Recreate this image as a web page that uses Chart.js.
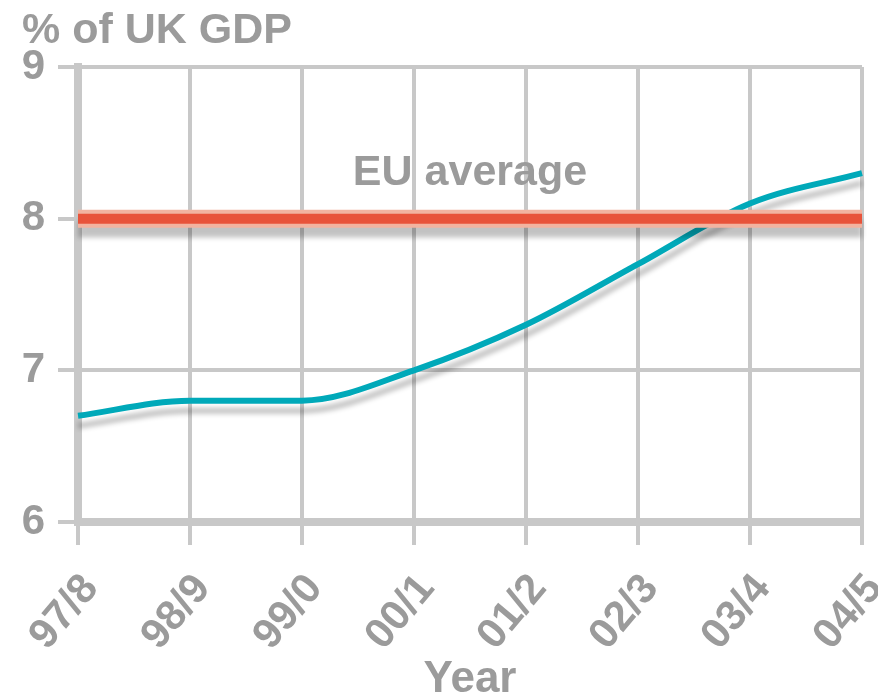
<!DOCTYPE html>
<html>
<head>
<meta charset="utf-8">
<style>
  html, body { margin: 0; padding: 0; background: #fff; }
  #wrap { width: 878px; height: 698px; }
</style>
<script src="https://cdn.jsdelivr.net/npm/chart.js@4/dist/chart.umd.min.js"></script>
</head>
<body>
<div id="wrap"><canvas id="gdpChart" width="878" height="698"></canvas></div>
<script>
// Données
const years = ['97/8', '98/9', '99/0', '00/1', '01/2', '02/3', '03/4', '04/5'];
const ukSpend = [6.7, 6.8, 6.8, 7.0, 7.3, 7.7, 8.1, 8.3];
const euAverage = 8;
const yTicks = [6, 7, 8, 9];

const grey = '#9b9b9b';
const gridCol = '#c8c8c8';
const font = { family: '"Liberation Sans", Arial, sans-serif', size: 42, weight: 'bold' };

// Ombre sous les lignes
const shadowPlugin = {
    id: 'shadow',
    beforeDatasetDraw(chart, args) {
        const ds = chart.data.datasets[args.index];
        if (!ds.shadow) return;
        const ctx = chart.ctx;
        ctx.save();
        ctx.shadowColor = 'rgba(0,0,0,0.24)';
        ctx.shadowBlur = 5;
        ctx.shadowOffsetY = 10;
    },
    afterDatasetDraw(chart, args) {
        const ds = chart.data.datasets[args.index];
        if (ds.shadow) chart.ctx.restore();
    }
};

// Textes : titre et "EU average"
const labelsPlugin = {
    id: 'labels',
    afterDraw(chart) {
        const ctx = chart.ctx;
        const x = chart.scales.x, y = chart.scales.y;
        ctx.save();
        ctx.fillStyle = grey;
        ctx.font = 'bold 43px "Liberation Sans", Arial, sans-serif';
        ctx.textBaseline = 'alphabetic';
        ctx.textAlign = 'left';
        ctx.fillText('% of UK GDP', 22, 43);
        ctx.textAlign = 'center';
        const cx = (x.getPixelForValue(3) + x.getPixelForValue(4)) / 2;
        ctx.fillText('EU average', cx, y.getPixelForValue(euAverage) - 34);
        ctx.restore();
    }
};

const ctx = document.getElementById('gdpChart');
new Chart(ctx, {
    type: 'line',
    data: {
        labels: years,
        datasets: [
            {
                label: 'EU average',
                data: years.map(() => euAverage),
                borderColor: '#e8533a',
                borderWidth: 10,
                pointRadius: 0
            },
            {
                label: 'halo',
                data: years.map(() => euAverage),
                borderColor: '#f2b3a0',
                borderWidth: 18,
                pointRadius: 0,
                shadow: true
            },
            {
                label: 'UK',
                data: ukSpend,
                borderColor: '#00a9b9',
                borderWidth: 6,
                pointRadius: 0,
                cubicInterpolationMode: 'monotone',
                shadow: true
            }
        ]
    },
    options: {
        responsive: false,
        animation: false,
        layout: { padding: { left: 22, right: 16, top: 67, bottom: 0 } },
        plugins: {
            legend: { display: false },
            tooltip: { enabled: false }
        },
        scales: {
            x: {
                grid: { color: gridCol, lineWidth: 4, tickLength: 23, tickWidth: 4 },
                border: { color: gridCol, width: 8 },
                ticks: {
                    color: grey, font: font, minRotation: 50, maxRotation: 50,
                    padding: 20, labelOffset: 13, autoSkip: false
                },
                title: { display: true, text: 'Year', color: grey, font: { ...font, size: 44 }, padding: { top: 0, bottom: -8 } },
                afterFit(scale) {
                    scale.height = 176;
                    scale.paddingLeft = 0;
                    scale.paddingRight = 0;
                }
            },
            y: {
                min: yTicks[0],
                max: yTicks[yTicks.length - 1],
                afterBuildTicks(scale) { scale.ticks = yTicks.map(v => ({ value: v })); },
                grid: { color: gridCol, lineWidth: 4, tickLength: 20 },
                border: { color: gridCol, width: 8 },
                ticks: { color: grey, font: font, padding: 13 },
                afterFit(scale) {
                    scale.width = 56;
                    scale.paddingTop = 0;
                    scale.paddingBottom = 0;
                }
            }
        }
    },
    plugins: [shadowPlugin, labelsPlugin]
});
</script>
</body>
</html>
